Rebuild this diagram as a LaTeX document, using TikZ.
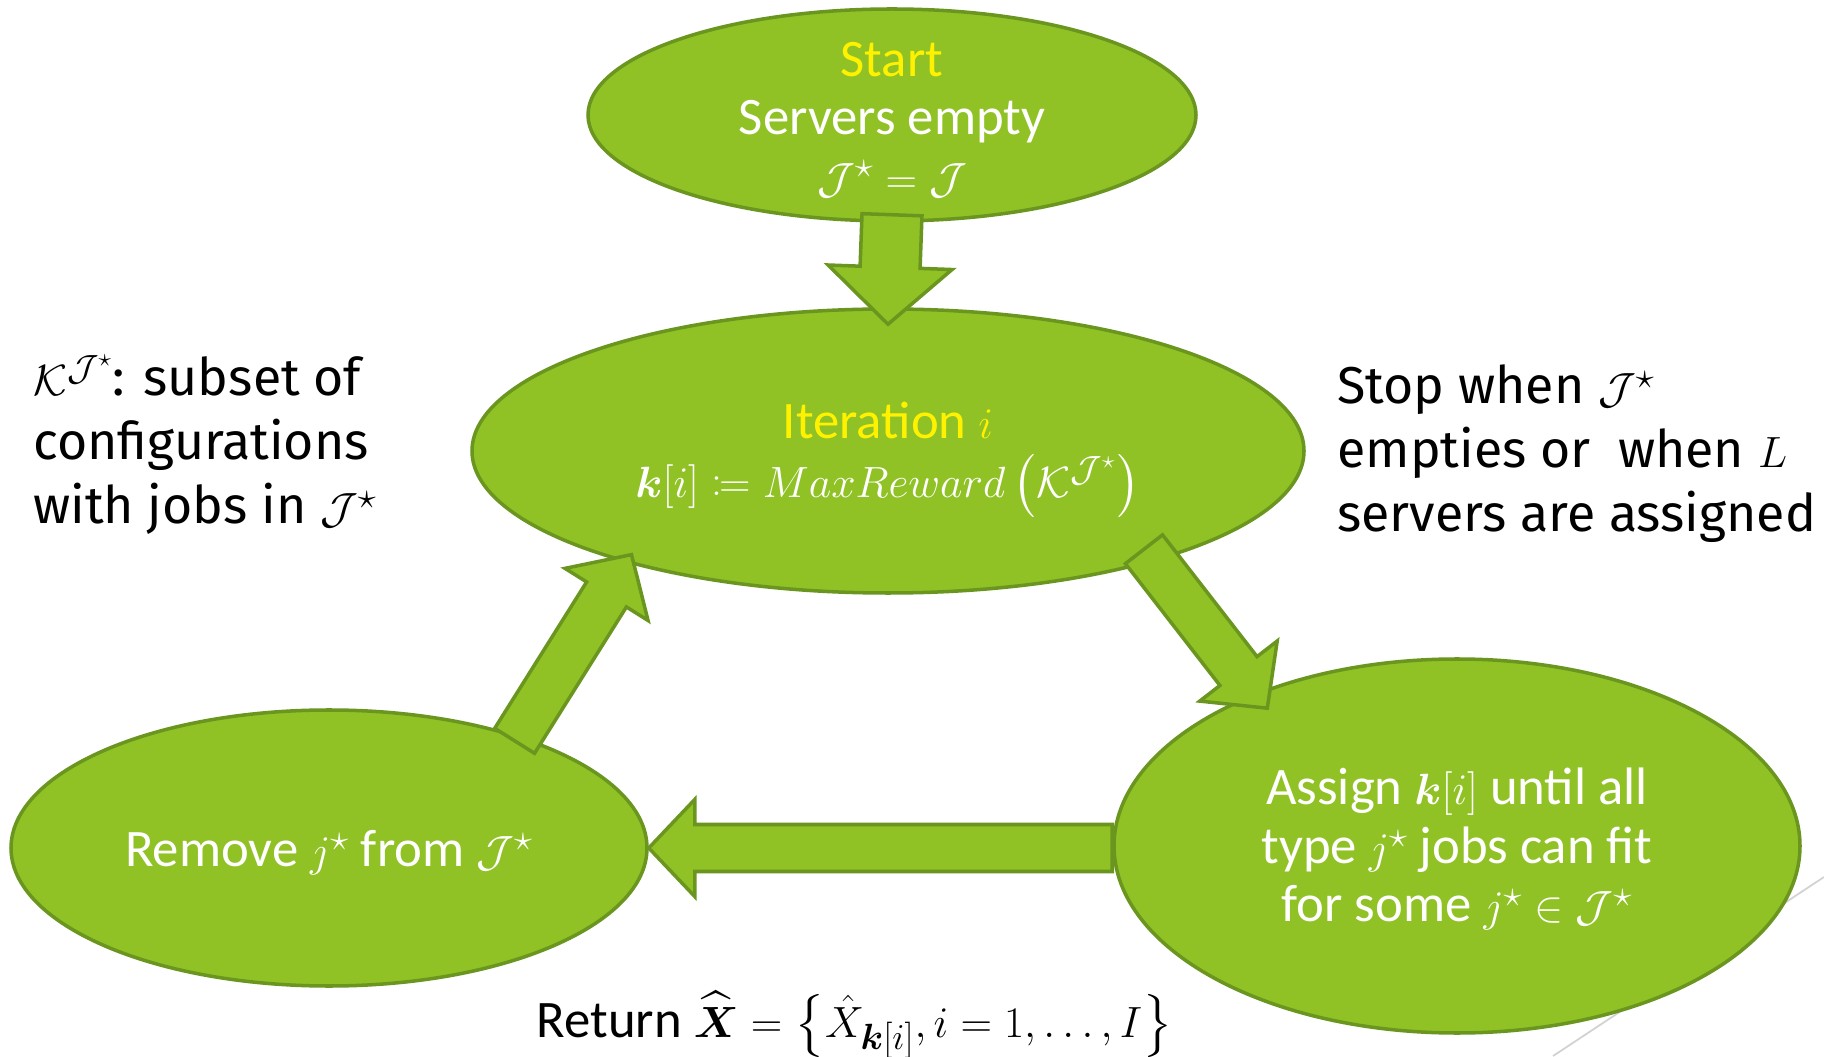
\documentclass[tikz,border=0pt]{standalone}
\usepackage{amsmath}
\usepackage{amssymb}
\usepackage{mathtools}
\usepackage{fontspec}
\setmainfont{Fira Sans}
\newfontfamily\ovalfont{Carlito}
\usepackage{tikz}
\usetikzlibrary{shapes.geometric, calc, positioning}

\definecolor{facetgreen}{HTML}{90C226}
\definecolor{facetdark}{HTML}{6A961F}

\tikzset{
  stage/.style={ellipse, draw=facetdark, fill=facetgreen, line width=2pt, inner sep=0pt},
  stagetext/.style={align=center, text=white, inner sep=0pt, font=\ovalfont\fontsize{30}{33.5}\selectfont},
  note/.style={align=left, inner sep=0pt, font=\fontsize{29.5}{36.4}\selectfont},
  blockarr/.style={draw=facetdark, fill=facetgreen, line width=2pt, line join=miter}
}

% block arrow: tail, tip, half shaft, half head, head length
\newcommand{\blockarrow}[5]{%
  \draw[blockarr] ($(#1)!#3!90:(#2)$) -- ($(#2)!#5!(#1)!#3!-90:(#1)$)
    -- ($(#2)!#5!(#1)!#4!-90:(#1)$) -- (#2)
    -- ($(#2)!#5!(#1)!#4!90:(#1)$) -- ($(#2)!#5!(#1)!#3!90:(#1)$)
    -- ($(#1)!#3!-90:(#2)$) -- cycle;}

\begin{document}
\begin{tikzpicture}
  \useasboundingbox (0,0) rectangle (36.48,21.12);
  \draw[gray!35, line width=1pt] (31.06,0) -- (36.48,3.58);

  \node[stage, minimum width=12.16cm, minimum height=4.24cm] (start) at (17.84,18.82) {};
  \node[stage, minimum width=16.64cm, minimum height=5.68cm] (iter) at (17.76,12.1) {};
  \node[stage, minimum width=12.72cm, minimum height=5.52cm] (remove) at (6.58,4.16) {};
  \node[stage, minimum width=13.72cm, minimum height=7.48cm] (assign) at (29.14,4.2) {};

  % arrow ends
  \coordinate (a1) at ($(start.south)+(0,0.16)$);
  \coordinate (b1) at ($(iter.north)+(0,-0.34)$);
  \coordinate (a2) at ($(iter.339)!0.49cm!(iter.center)$);
  \coordinate (b2) at ($(assign.144)!0.44cm!(assign.center)$);
  \coordinate (a3) at (assign.west |- remove.east);
  \coordinate (b3) at (remove.east);
  \coordinate (a4) at ($(remove.30)!0.17cm!(remove.center)$);
  \coordinate (b4) at ($(iter.202)!0.31cm!(iter.center)$);

  \blockarrow{a1}{b1}{0.6cm}{1.24cm}{1.14cm}
  \blockarrow{a2}{b2}{0.47cm}{0.98cm}{0.94cm}
  \blockarrow{a3}{b3}{0.47cm}{0.97cm}{0.92cm}
  \blockarrow{a4}{b4}{0.47cm}{0.98cm}{0.94cm}

  \node[stagetext] (start-txt) at ($(start)+(0,-0.1)$) {\textcolor{yellow}{Start}\\Servers empty\\$\mathcal{J}^\star=\mathcal{J}$};
  \node[stagetext] (iter-txt) at ($(iter)+(0,-0.18)$) {\textcolor{yellow}{Iteration $i$}\\$\boldsymbol{k}[i]\coloneqq MaxReward\left(\mathcal{K}^{\mathcal{J}^\star}\right)$};
  \node[stagetext] (assign-txt) at ($(assign)+(0,-0.06)$) {Assign $\boldsymbol{k}[i]$ until all\\type $j^\star$ jobs can fit\\for some $j^\star\in\mathcal{J}^\star$};
  \node[stagetext] (remove-txt) at ($(remove)+(0,-0.1)$) {Remove $j^\star$ from $\mathcal{J}^\star$};

  \node[note, anchor=west] (subset) at (0.66,12.22) {$\mathcal{K}^{\mathcal{J}^\star}$: subset of\\configurations\\with jobs in $\mathcal{J}^\star$};
  \node[note, anchor=west] (stop) at (26.74,12.04) {Stop when $\mathcal{J}^\star$\\empties or\ \ when $L$\\servers are assigned};
  \node[stagetext, text=black] (result) at (17.1,0.62) {Return $\widehat{\boldsymbol{X}}=\left\{\hat{X}_{\boldsymbol{k}[i]}, i=1,\ldots,I\right\}$};
\end{tikzpicture}
\end{document}
